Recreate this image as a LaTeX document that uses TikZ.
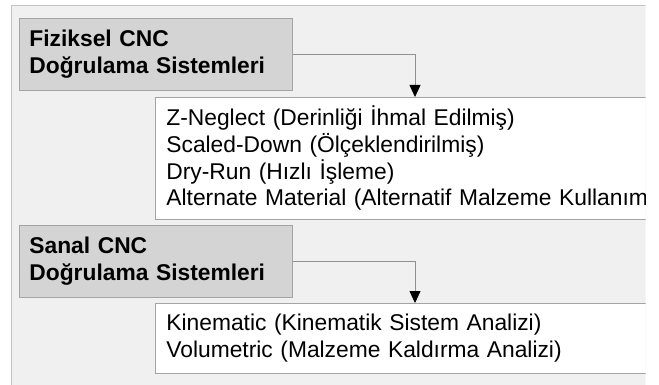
\documentclass[tikz,border=0pt]{standalone}
\usepackage{fontspec}
\setmainfont{Liberation Sans}
\usetikzlibrary{arrows.meta}
\definecolor{framebg}{HTML}{F0F0F0}
\definecolor{frameline}{HTML}{C4C4C4}
\definecolor{grayfill}{HTML}{D4D4D4}
\definecolor{boxline}{HTML}{A4A4A4}
\definecolor{connline}{HTML}{909090}
\begin{document}
\begin{tikzpicture}[x=1pt,y=-1pt,
  headbox/.style={draw=boxline, fill=grayfill, line width=0.8pt,
    font=\fontsize{22.8}{26.7}\selectfont\bfseries, text width=253pt,
    inner xsep=10pt, inner ysep=0pt, minimum height=72pt, align=left, anchor=north west},
  itembox/.style={draw=boxline, fill=white, line width=0.8pt,
    font=\fontsize{22.8}{26.7}\selectfont, text width=530pt,
    inner xsep=11pt, inner ysep=0pt, align=left, anchor=north west},
  conn/.style={draw=connline, line width=0.8pt,
    -{Triangle[length=12pt,width=11pt,color=black,fill=black]}}]
\useasboundingbox (0,0) rectangle (659,385);
\begin{scope}
\clip (0,0) rectangle (645.5,385);
\path[draw=frameline, fill=framebg, line width=0.8pt] (11.5,5.5) rectangle (700,400);
\node[headbox] (g1) at (19,18) {Fiziksel CNC\\Doğrulama Sistemleri};
\node[itembox, minimum height=122pt] (w1) at (155,97)
  {Z-Neglect (Derinliği İhmal Edilmiş)\\Scaled-Down (Ölçeklendirilmiş)\\Dry-Run (Hızlı İşleme)\\Alternate Material (Alternatif Malzeme Kullanımı)};
\node[headbox] (g2) at (19,225) {Sanal CNC\\Doğrulama Sistemleri};
\node[itembox, minimum height=70pt] (w2) at (155,303)
  {Kinematic (Kinematik Sistem Analizi)\\Volumetric (Malzeme Kaldırma Analizi)};
\coordinate (t1) at (415,97);
\coordinate (t2) at (415,303);
\draw[conn] (g1.east) -| (t1);
\draw[conn] (g2.east) -| (t2);
\end{scope}
\end{tikzpicture}
\end{document}
